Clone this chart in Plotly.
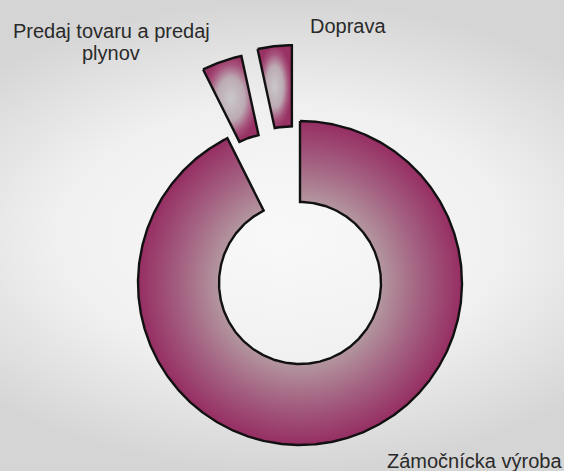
import numpy as np
import plotly.graph_objects as go

# Share of each activity (percent), drawn clockwise from 12 o'clock
labels = ["Zámočnícka výroba", "Predaj tovaru a predaj<br>plynov", "Doprava"]
shares = [92.6, 4.0, 3.4]

# ---- layout / style (pixel space: x right, y down) ----
W, H = 564, 471
CX, CY = 300, 283          # ring centre
R_OUT = 162                # outer radius
HOLE = 0.5                 # inner radius as fraction of outer
PULL = [0.0, 0.45, 0.47]   # explode distance as fraction of outer radius
LABEL_POS = [(474, 461), (111, 30.5), (347.5, 26)]   # centre of first text line
LINE_GAP = 22.7
FONT = "Liberation Sans, Arial, sans-serif"
BG_PAD = 130               # backdrop extends past the sides for a softer horizontal falloff

RING_SCALE = [[0, "#cbc6c9"], [0.5, "#b3969f"], [0.75, "#a35f80"], [1, "#962e63"]]
SLICE_SCALE = [[0, "#cac8cb"], [0.5, "#bcaab3"], [0.8, "#a6527b"], [1, "#983264"]]
BG_SCALE = [[0, "#f9f9f9"], [0.55, "#f0f0f0"], [1, "#d5d5d5"]]


def sector(a0, a1, r_in, r_out, dx, dy):
    """Closed outline of an annular sector; angles in degrees clockwise from top."""
    n = max(int((a1 - a0) * 2), 12)
    t_out = np.radians(np.linspace(a0, a1, n))
    t_in = t_out[::-1]
    xs = np.concatenate([CX + r_out * np.sin(t_out), CX + r_in * np.sin(t_in)])
    ys = np.concatenate([CY - r_out * np.cos(t_out), CY - r_in * np.cos(t_in)])
    xs = np.append(xs, xs[0]) + dx
    ys = np.append(ys, ys[0]) + dy
    return xs, ys


fig = go.Figure()

# soft radial backdrop
fig.add_trace(go.Scatter(
    x=[-BG_PAD, W + BG_PAD, W + BG_PAD, -BG_PAD, -BG_PAD], y=[0, 0, H, H, 0],
    mode="lines", fill="toself",
    line=dict(width=0, color="rgba(0,0,0,0)"),
    fillgradient=dict(type="radial", colorscale=BG_SCALE),
    hoverinfo="skip", showlegend=False,
))

total = float(sum(shares))
start = 0.0
for i, (lab, val) in enumerate(zip(labels, shares)):
    span = 360.0 * val / total
    a0, a1 = start, start + span
    start = a1
    mid = np.radians((a0 + a1) / 2)
    d = PULL[i] * R_OUT
    xs, ys = sector(a0, a1, R_OUT * HOLE, R_OUT, d * np.sin(mid), -d * np.cos(mid))
    fig.add_trace(go.Scatter(
        x=xs, y=ys, mode="lines", fill="toself", name=lab.replace("<br>", " "),
        line=dict(color="#111111", width=2.4),
        fillgradient=dict(type="radial", colorscale=RING_SCALE if i == 0 else SLICE_SCALE),
        hoverinfo="name", showlegend=False,
    ))

    lx, ly = LABEL_POS[i]
    for k, line in enumerate(lab.split("<br>")):
        fig.add_annotation(
            x=lx, y=ly + k * LINE_GAP, xref="x", yref="y", text=line,
            showarrow=False, xanchor="center", yanchor="middle",
            font=dict(family=FONT, size=20, color="#2a2a2a"),
        )

fig.update_xaxes(range=[0, W], visible=False, fixedrange=True)
fig.update_yaxes(range=[H, 0], visible=False, fixedrange=True)
fig.update_layout(
    width=W, height=H, autosize=False,
    margin=dict(l=0, r=0, t=0, b=0),
    paper_bgcolor="#e6e6e6", plot_bgcolor="rgba(0,0,0,0)",
    showlegend=False,
)

fig.write_html("out.html")
